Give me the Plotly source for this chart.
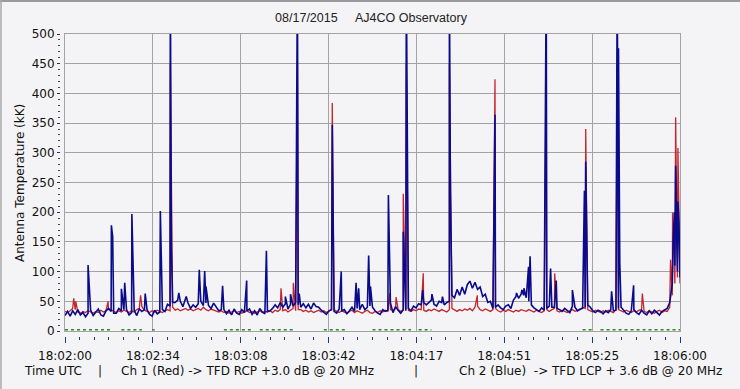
import plotly.graph_objects as go

# ---- data ----
# background readings, one per second from 18:02:00 (0 s) to 18:06:00 (240 s)
seconds = list(range(241))

ch2_blue_base = [
    26, 33, 25, 34, 28, 36, 27, 31, 24, 30, 35, 26, 32, 37, 27, 25, 34, 38, 33, 30,
    30, 38, 34, 36, 36, 27, 31, 35, 26, 37, 33, 36, 36, 28, 25, 35, 29, 32, 36, 33,
    45, 42, 48, 48, 52, 50, 41, 58, 47, 38, 44, 40, 46, 50, 43, 47, 43, 38, 47, 40,
    34, 36, 36, 29, 35, 27, 37, 30, 28, 36, 31, 34, 37, 28, 34, 27, 38, 32, 29, 33,
    34, 38, 44, 39, 48, 40, 46, 37, 45, 42, 48, 44, 40, 46, 39, 45, 37, 47, 41, 40,
    35, 31, 28, 34, 36, 33, 30, 37, 34, 36, 29, 34, 40, 33, 38, 36, 45, 36, 40, 42,
    40, 34, 30, 28, 36, 33, 35, 47, 31, 41, 35, 30, 36, 34, 38, 34, 42, 39, 46, 44,
    48, 44, 48, 52, 45, 42, 50, 48, 44, 48, 50, 60, 56, 70, 60, 74, 62, 78, 84, 72,
    82, 70, 74, 58, 62, 48, 50, 38, 40, 44, 39, 36, 42, 44, 38, 52, 58, 55, 62, 60,
    56, 50, 44, 39, 36, 33, 39, 35, 38, 42, 40, 40, 38, 36, 33, 38, 34, 31, 42, 40,
    34, 37, 38, 40, 44, 40, 34, 31, 35, 33, 29, 34, 31, 36, 34, 35, 38, 40, 35, 30,
    28, 34, 36, 31, 28, 35, 30, 27, 34, 29, 35, 31, 27, 33, 36, 38, 48, 80, 110, 100,
    90,
]

ch1_red_base = [
    33, 31, 34, 38, 36, 32, 30, 33, 31, 34, 32, 30, 33, 31, 35, 32, 34, 36, 36, 33,
    31, 34, 32, 35, 33, 31, 34, 32, 36, 38, 41, 35, 33, 31, 34, 32, 35, 33, 31, 34,
    36, 34, 40, 35, 37, 34, 36, 38, 35, 37, 34, 36, 38, 35, 40, 36, 34, 37, 35, 33,
    32, 34, 31, 33, 30, 32, 34, 31, 33, 30, 32, 34, 31, 33, 30, 32, 34, 31, 33, 32,
    34, 31, 35, 33, 36, 34, 36, 32, 35, 38, 34, 36, 36, 33, 35, 32, 34, 31, 33, 35,
    32, 34, 31, 33, 36, 36, 33, 31, 34, 32, 30, 33, 35, 31, 34, 32, 30, 33, 35, 31,
    30, 33, 31, 34, 32, 35, 33, 36, 34, 38, 36, 33, 35, 37, 35, 33, 36, 34, 37, 36,
    35, 33, 36, 34, 37, 35, 33, 36, 34, 32, 36, 38, 35, 33, 36, 34, 37, 35, 38, 34,
    40, 42, 36, 34, 37, 35, 33, 36, 38, 34, 32, 35, 33, 36, 34, 32, 35, 33, 36, 34,
    33, 36, 34, 32, 35, 33, 31, 34, 36, 33, 36, 38, 34, 32, 35, 33, 31, 34, 36, 33,
    34, 36, 40, 38, 36, 34, 32, 35, 33, 31, 34, 32, 35, 33, 31, 36, 36, 34, 32, 35,
    33, 31, 34, 32, 35, 36, 33, 31, 34, 32, 30, 33, 35, 31, 34, 33, 40, 60, 80, 90,
    80,
]

# short bursts (time in s after 18:02:00, antenna temperature kK)
ch2_blue_burst_t = [9.0, 18.1, 18.6, 22.0, 23.3, 26.1, 31.3, 37.2, 41.1, 41.5,
                    44.4, 47.3, 52.4, 54.5, 55.0, 61.5, 70.9, 78.6, 86.0, 88.0,
                    90.7, 91.4, 104.3, 104.7, 107.8, 113.6, 114.6, 118.5, 119.2,
                    126.2, 132.0, 133.2, 139.6, 143.2, 147.3, 150.0, 150.4, 167.8,
                    176.2, 178.3, 179.1, 180.9, 181.5, 187.8, 189.5, 191.7, 198.0,
                    202.7, 203.2, 213.3, 215.5, 216.0, 216.5, 221.9, 237.3, 237.8,
                    238.3, 238.7, 239.2, 239.6]
ch2_blue_burst_v = [111, 178, 159, 71, 81, 197, 63, 202, 600, 143,
                    64, 58, 103, 101, 75, 76, 85, 135, 58, 62,
                    600, 63, 347, 108, 100, 81, 72, 127, 75,
                    229, 167, 600, 69, 62, 58, 600, 236, 364,
                    64, 69, 72, 108, 126, 600, 105, 85, 69,
                    236, 285, 67, 600, 476, 115, 77, 150, 200,
                    278, 160, 218, 180]

ch1_red_burst_t = [3.4, 4.2, 16.8, 29.5, 41.1, 84.3, 89.1, 90.7, 104.3, 126.7,
                   129.2, 132.0, 133.2, 139.8, 150.0, 160.9, 167.8, 187.8, 191.1,
                   203.2, 203.8, 215.5, 225.3, 236.3, 237.1, 238.3, 239.2]
ch1_red_burst_v = [55, 50, 50, 60, 450, 72, 81, 450, 384, 64,
                   57, 231, 450, 97, 450, 60, 424, 450, 97,
                   340, 125, 450, 63, 120, 199, 360, 308]

# low-level third channel: segments (start s, end s) at a constant small value
ch3_segments_start = [0, 22, 34, 62, 76, 101, 120, 138, 202, 209]
ch3_segments_end = [18, 30, 35, 73, 90, 110, 135, 143, 206, 240]
ch3_level = 2

time_labels = ["18:02:00", "18:02:34", "18:03:08", "18:03:42",
               "18:04:17", "18:04:51", "18:05:25", "18:06:00"]


def merge(base_t, base_v, burst_t, burst_v):
    pts = sorted(list(zip(base_t, base_v)) + list(zip(burst_t, burst_v)),
                 key=lambda p: p[0])
    return [p[0] for p in pts], [p[1] for p in pts]


blue_x, blue_y = merge(seconds, ch2_blue_base, ch2_blue_burst_t, ch2_blue_burst_v)
red_x, red_y = merge(seconds, ch1_red_base, ch1_red_burst_t, ch1_red_burst_v)

# ---- geometry ----
W, H = 740, 389
L, R, T, B = 60, 60, 34, 53
PW = W - L - R
PH = H - T - B
x_dom0 = (65 - L) / PW
y_dom0 = (336 - 331) / PH


def px_x(px):
    return (px - L) / PW


def px_y(py):
    return (H - B - py) / PH


span = 240
major_ticks = [span * k / 7 for k in range(8)]

g_x, g_y = [], []
for s, e in zip(ch3_segments_start, ch3_segments_end):
    g_x += [s, e, None]
    g_y += [ch3_level, ch3_level, None]

fig = go.Figure()
fig.add_trace(go.Scatter(x=g_x, y=g_y, mode="lines", xaxis="x2", yaxis="y2",
                         line=dict(color="#2a8a2a", width=1.5, dash="dot"),
                         hoverinfo="skip", showlegend=False))
fig.add_trace(go.Scatter(x=red_x, y=red_y, mode="lines",
                         line=dict(color="#C4262E", width=1.3),
                         hoverinfo="skip", showlegend=False))
fig.add_trace(go.Scatter(x=blue_x, y=blue_y, mode="lines",
                         line=dict(color="#0A0A8C", width=1.6),
                         hoverinfo="skip", showlegend=False))

grid = "#A3A3A3"
font = dict(family="DejaVu Sans", size=12, color="#111")
bg = "#F4F4F6"

fig.update_layout(
    width=W, height=H,
    margin=dict(l=L, r=R, t=T, b=B, pad=0),
    paper_bgcolor=bg, plot_bgcolor=bg,
    font=font,
    showlegend=False,
    title=dict(text="08/17/2015\u00a0\u00a0\u00a0\u00a0\u00a0AJ4CO Observatory",
               x=371 / W, xanchor="center", y=1 - 18 / H, yanchor="middle",
               xref="container", yref="container",
               font=dict(family="Liberation Sans", size=12.5, color="#222")),
    xaxis=dict(domain=[x_dom0, 1], range=[0, span], tickvals=major_ticks,
               showticklabels=False, ticks="", showgrid=True, gridcolor=grid,
               gridwidth=1, showline=True, linecolor=grid, linewidth=1,
               mirror=True, zeroline=False, anchor="y"),
    yaxis=dict(domain=[y_dom0, 1], range=[0, 500], dtick=50,
               showticklabels=False, ticks="", showgrid=True, gridcolor=grid,
               gridwidth=1, showline=True, linecolor=grid, linewidth=1,
               mirror=True, zeroline=False, anchor="x"),
    xaxis2=dict(overlaying="x", anchor="free", position=0, range=[0, span],
                tickvals=major_ticks, ticktext=time_labels, ticks="outside",
                ticklen=6, tickwidth=1, tickcolor="#1F3A7A",
                showgrid=False, showline=False, zeroline=False,
                tickfont=font, ticklabelstandoff=3,
                minor=dict(dtick=span / 42, tick0=0, ticks="outside", ticklen=3,
                           tickwidth=1, tickcolor="#1F3A7A", showgrid=False)),
    yaxis2=dict(overlaying="y", anchor="free", position=0, side="left",
                range=[0, 500], dtick=50, ticks="outside", ticklen=3,
                tickwidth=1, tickcolor="#333",
                showgrid=False, showline=False, zeroline=False, tickfont=font,
                minor=dict(dtick=10, ticks="outside", ticklen=2, tickwidth=1,
                           tickcolor="#444", showgrid=False)),
)

ann_y = px_y(371)
fig.add_annotation(text="Antenna Temperature (kK)", textangle=-90,
                   x=px_x(20), y=px_y(183), xref="paper", yref="paper",
                   showarrow=False, font=font, xanchor="center", yanchor="middle")
fig.add_annotation(text="Time UTC", x=px_x(22), y=ann_y, xref="paper", yref="paper",
                   showarrow=False, font=font, xanchor="left", yanchor="middle")
fig.add_annotation(text="|", x=px_x(100), y=ann_y, xref="paper", yref="paper",
                   showarrow=False, font=font, xanchor="center", yanchor="middle")
fig.add_annotation(text="Ch 1 (Red) -> TFD RCP +3.0 dB @ 20 MHz", x=px_x(119), y=ann_y,
                   xref="paper", yref="paper", showarrow=False, font=font,
                   xanchor="left", yanchor="middle")
fig.add_annotation(text="|", x=px_x(416), y=ann_y, xref="paper", yref="paper",
                   showarrow=False, font=font, xanchor="center", yanchor="middle")
fig.add_annotation(text="Ch 2 (Blue)\u00a0\u00a0-> TFD LCP + 3.6 dB @ 20 MHz", x=px_x(724),
                   y=ann_y, xref="paper", yref="paper", showarrow=False, font=font,
                   xanchor="right", yanchor="middle")

# window frame (top/left darker edge)
fig.add_shape(type="line", xref="paper", yref="paper", x0=px_x(0), x1=px_x(W),
              y0=px_y(1), y1=px_y(1), line=dict(color="#9A9A9A", width=2))
fig.add_shape(type="line", xref="paper", yref="paper", x0=px_x(1), x1=px_x(1),
              y0=px_y(0), y1=px_y(H), line=dict(color="#A8A8A8", width=1.5))

fig.write_html("out.html",
               config={"displayModeBar": False},
               post_script="document.body.style.margin='0';"
                           "document.body.style.overflow='hidden';")
